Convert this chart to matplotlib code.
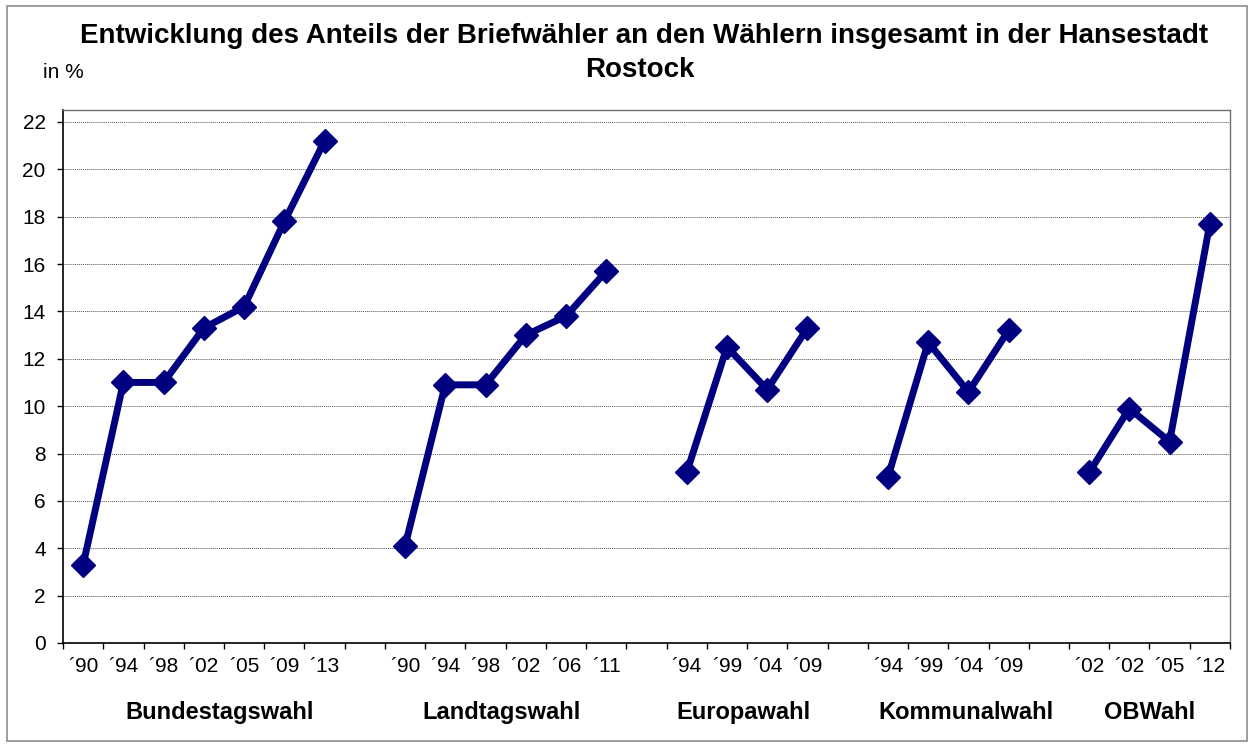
import matplotlib
matplotlib.use("Agg")
import matplotlib.pyplot as plt
from matplotlib.patches import Rectangle

plt.rcParams['font.family'] = ['Liberation Sans', 'DejaVu Sans']

groups = ["Bundestagswahl", "Landtagswahl", "Europawahl", "Kommunalwahl", "OBWahl"]
years = [
    ["´90", "´94", "´98", "´02", "´05", "´09", "´13"],
    ["´90", "´94", "´98", "´02", "´06", "´11"],
    ["´94", "´99", "´04", "´09"],
    ["´94", "´99", "´04", "´09"],
    ["´02", "´02", "´05", "´12"],
]
bundestag = [3.3, 11.0, 11.0, 13.3, 14.2, 17.8, 21.2]
landtag = [4.1, 10.9, 10.9, 13.0, 13.8, 15.7]
europa = [7.2, 12.5, 10.7, 13.3]
kommunal = [7.0, 12.7, 10.6, 13.2]
obwahl = [7.2, 9.9, 8.5, 17.7]
series = [bundestag, landtag, europa, kommunal, obwahl]

title_line1 = "Entwicklung des Anteils der Briefwähler an den Wählern insgesamt in der Hansestadt"
title_line2 = "Rostock"

fig = plt.figure(figsize=(12.53, 7.44), dpi=100)
fig.patches.append(Rectangle((0.0056, 0.004), 0.99, 0.988, transform=fig.transFigure,
                             fill=False, edgecolor='#8c8c8c', linewidth=1.2))
ax = fig.add_axes([0.0503, 0.1358, 0.9313, 0.7162])

color = '#000080'
pos = 0
tick_pos, tick_lab, centers = [], [], []
for g, (labs, vals) in enumerate(zip(years, series)):
    xs = list(range(pos, pos + len(vals)))
    ax.plot(xs, vals, color=color, linewidth=5, marker='D', markersize=12,
            markeredgecolor=color, markerfacecolor=color, solid_joinstyle='round')
    tick_pos += xs
    tick_lab += labs
    centers.append((xs[0] + xs[-1]) / 2)
    pos += len(vals) + 1
nslots = pos - 1

ax.set_xlim(-0.5, nslots - 0.5)
ax.set_ylim(0, 22.5)
ax.set_yticks(range(0, 23, 2))
ax.set_xticks(tick_pos)
ax.set_xticklabels(tick_lab, fontsize=15)
ax.tick_params(axis='x', length=0, pad=10)
ax.set_xticks([i - 0.5 for i in range(nslots + 1)], minor=True)
ax.tick_params(axis='x', which='minor', length=4.5, width=1, direction='out')
ax.tick_params(axis='y', labelsize=15, length=4.5, width=1, direction='out', pad=8)
ax.grid(axis='y', color='#555555', linestyle=(0, (1, 1)), linewidth=0.7)
ax.set_axisbelow(True)
for s in ['top', 'right']:
    ax.spines[s].set_color('#707070')
    ax.spines[s].set_linewidth(1)
for s in ['left', 'bottom']:
    ax.spines[s].set_color('black')
    ax.spines[s].set_linewidth(1.2)

offsets = [0.4, -0.1, -0.1, 0.45, 0.0]
for c, off, name in zip(centers, offsets, groups):
    ax.text(c + off, -0.13, name, transform=ax.get_xaxis_transform(),
            ha='center', va='center', fontsize=17, fontweight='bold')

fig.text(0.5144, 1 - 43 / 744, title_line1, ha='center', va='baseline', fontsize=20,
         fontweight='bold')
fig.text(0.511, 1 - 77 / 744, title_line2, ha='center', va='baseline', fontsize=20,
         fontweight='bold')
fig.text(0.0343, 1 - 78 / 744, "in %", ha='left', va='baseline', fontsize=15)

fig.savefig("out.png", dpi=100)
